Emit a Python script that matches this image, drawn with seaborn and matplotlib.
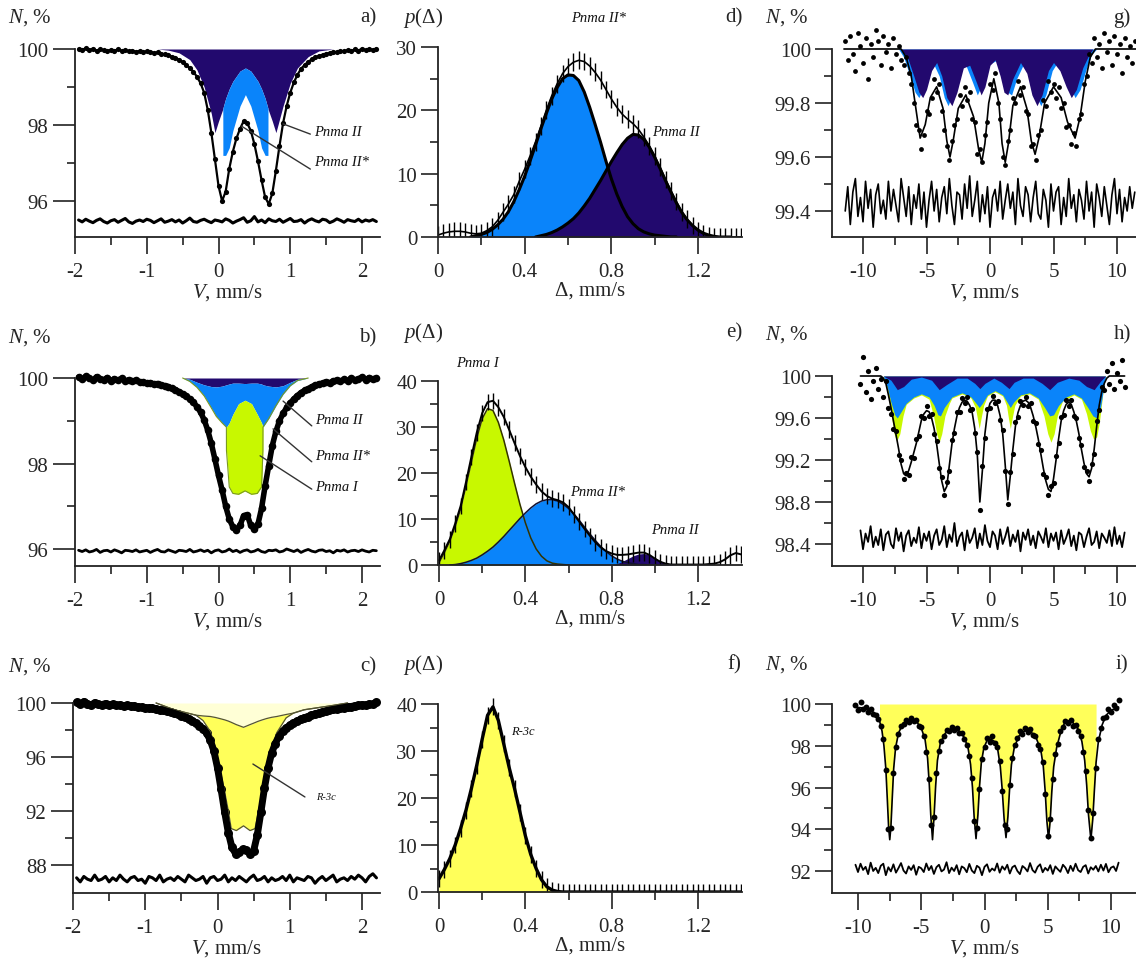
import numpy as np
import matplotlib
matplotlib.use("Agg")
import matplotlib.pyplot as plt
import seaborn as sns
from matplotlib.ticker import FixedLocator, FuncFormatter

sns.set_style("ticks")
plt.rcParams['font.family'] = ['Liberation Serif', 'DejaVu Serif']
plt.rcParams['mathtext.fontset'] = 'custom'
plt.rcParams['mathtext.it'] = 'Liberation Serif:italic'
plt.rcParams['mathtext.rm'] = 'Liberation Serif'
plt.rcParams['axes.unicode_minus'] = False

NAVY = '#22096e'
LBLUE = '#0a84fa'
GREEN = '#c8f800'
YELLOW = '#ffff5a'
PALE = '#ffffd6'
FS = 15

# ---------------- data: panel a ----------------
a_pts = [100.00, 99.98, 100.02, 99.97, 100.01, 99.96, 99.99, 99.97, 99.95, 99.98,
         99.96, 99.99, 99.95, 99.97, 99.94, 99.96, 99.93, 99.95, 99.92, 99.94,
         99.93, 99.90, 99.91, 99.88, 99.86, 99.85, 99.80, 99.77, 99.72, 99.66,
         99.58, 99.50, 99.40, 99.27, 99.10, 98.85, 98.40, 97.80, 97.10, 96.40,
         96.00, 96.25, 96.85, 97.30, 97.65, 97.90, 98.10, 98.05, 97.85, 97.50,
         97.05, 96.55, 96.10, 95.92, 96.20, 96.80, 97.45, 98.05, 98.50, 98.85,
         99.12, 99.32, 99.48, 99.58, 99.66, 99.73, 99.78, 99.82, 99.85, 99.88,
         99.90, 99.93, 99.91, 99.95, 99.94, 99.97, 99.95, 99.99, 99.96, 100.01,
         99.97, 100.00, 99.98, 100.01]
a_res = [3, -2, 5, 0, -4, 2, 6, -1, -5, 1, 4, -3, 2, 7, -2, -6, 0, 3, -1, 5,
         2, -4, 1, 6, -3, 0, 4, -2, 3, -5, 1, 8, -1, -3, 2, 5, 0, -4, 3, 1,
         -2, 6, 2, -5, 0, 4, 9, -3, 1, 12, -2, 3, -4, 6, 1, -1, 5, -3, 2, 7,
         -1, 0, 4, -5, 2, 6, 1, -2, 5, 3, -4, 0, 6, 2, -3, 4, 1, -1, 5, -2,
         3, 0, 4, -1]
A_RES_BASE = 95.47
a_cx = [-0.85, -0.7, -0.55, -0.4, -0.3, -0.2, -0.1, -0.05, 0.0, 0.06, 0.061, 0.1, 0.15, 0.2,
        0.3, 0.375, 0.45, 0.55, 0.6, 0.65, 0.689, 0.69, 0.75, 0.8, 0.9, 1.0, 1.1, 1.25, 1.4, 1.6]
a_navy = [100, 99.97, 99.9, 99.72, 99.45, 99.0, 98.3, 97.8, 98.1, 98.42, 98.44, 98.7, 98.95, 99.15,
          99.42, 99.5, 99.42, 99.15, 98.95, 98.7, 98.44, 98.42, 98.1, 97.8, 98.5, 99.1, 99.5, 99.8, 99.95, 100]
a_blue = [100, 99.97, 99.9, 99.72, 99.45, 99.0, 98.3, 97.8, 98.1, 98.42, 97.2, 97.2, 97.4, 97.85,
          98.5, 98.8, 98.5, 97.85, 97.4, 97.2, 97.2, 98.42, 98.1, 97.8, 98.5, 99.1, 99.5, 99.8, 99.95, 100]

# ---------------- data: panel b ----------------
b_pts = [100.02, 99.97, 100.04, 99.99, 99.95, 100.03, 99.98, 99.96, 100.01, 99.94,
         99.98, 99.95, 99.99, 99.93, 99.96, 99.92, 99.95, 99.91, 99.90, 99.88,
         99.89, 99.86, 99.87, 99.84, 99.82, 99.80, 99.76, 99.73, 99.68, 99.63,
         99.57, 99.51, 99.43, 99.33, 99.20, 99.02, 98.78, 98.47, 98.10, 97.72,
         97.38, 97.00, 96.70, 96.52, 96.45, 96.55, 96.78, 96.80, 96.55, 96.46,
         96.58, 96.95, 97.48, 97.95, 98.42, 98.75, 99.00, 99.17, 99.31, 99.42,
         99.51, 99.59, 99.66, 99.71, 99.75, 99.80, 99.83, 99.86, 99.88, 99.91,
         99.89, 99.93, 99.95, 99.92, 99.97, 99.94, 100.00, 99.95, 99.98, 100.02,
         99.96, 100.01, 99.97, 100.00]
b_res = [2, -1, 3, -2, 0, 4, -3, 1, 2, -2, 3, 0, -4, 2, 1, -1, 3, -2, 0, 2,
         -3, 1, 4, -1, -2, 3, 0, -3, 2, 1, -1, 4, -2, 0, 3, -1, 2, -4, 1, 3,
         -2, 0, 5, -1, 2, -3, 1, 3, -2, 0, 4, -1, -3, 2, 1, 3, -2, 0, 5, 2,
         -1, 3, -3, 1, 4, 0, -2, 2, 3, -1, 1, -4, 2, 0, 3, -2, 1, 2, -1, 3,
         0, -2, 2, 1]
B_RES_BASE = 95.95
b_cx = [-0.5, -0.4, -0.3, -0.2, -0.1, -0.03, 0.05, 0.11, 0.111, 0.15, 0.2, 0.28, 0.37, 0.46,
        0.54, 0.6, 0.619, 0.62, 0.7, 0.8, 0.9, 1.0, 1.1, 1.25]
b_navy = [100, 99.97, 99.9, 99.84, 99.8, 99.79, 99.81, 99.84, 99.84, 99.86, 99.88, 99.88, 99.87, 99.88,
          99.88, 99.86, 99.84, 99.84, 99.81, 99.79, 99.82, 99.9, 99.97, 100]
b_blue = [100, 99.92, 99.78, 99.58, 99.3, 99.1, 98.95, 98.85, 98.85, 98.95, 99.15, 99.4, 99.48, 99.4,
          99.15, 98.95, 98.85, 98.85, 99.05, 99.35, 99.62, 99.82, 99.94, 100]
b_green = [100, 99.92, 99.78, 99.58, 99.3, 99.1, 98.95, 98.85, 98.3, 97.45, 97.3, 97.28, 97.36, 97.28,
           97.3, 97.45, 98.3, 98.85, 99.05, 99.35, 99.62, 99.82, 99.94, 100]

# ---------------- data: panel c ----------------
c_pts = [100.05, 99.90, 100.10, 99.95, 99.85, 100.02, 99.92, 99.88, 99.96, 99.86,
         99.90, 99.82, 99.87, 99.80, 99.83, 99.76, 99.78, 99.72, 99.70, 99.66,
         99.64, 99.60, 99.55, 99.50, 99.45, 99.38, 99.32, 99.24, 99.15, 99.06,
         98.95, 98.83, 98.70, 98.53, 98.33, 98.08, 97.75, 97.25, 96.45, 95.20,
         93.60, 91.90, 90.40, 89.30, 88.85, 88.95, 89.15, 89.10, 88.85, 89.05,
         90.20, 91.90, 93.70, 95.20, 96.30, 97.00, 97.55, 97.90, 98.15, 98.35,
         98.52, 98.66, 98.80, 98.90, 99.00, 99.10, 99.18, 99.26, 99.32, 99.40,
         99.46, 99.52, 99.56, 99.62, 99.66, 99.72, 99.74, 99.80, 99.82, 99.88,
         99.86, 99.93, 99.90, 100.05]
c_res = [1, -2, 2, 0, -1, 3, -1, 0, 2, -2, 1, -1, 3, 0, -2, 1, 2, -1, 0, -3,
         2, 1, -1, 3, -2, 0, 1, -1, 2, 0, -2, 3, 1, -1, 0, 2, -3, 1, 2, -1,
         0, 3, -2, 1, -1, 2, 0, -2, 1, 3, -1, 0, 2, -2, 1, -1, 0, 2, -1, 3,
         -2, 1, 0, -1, 2, 1, -3, 0, 2, -1, 1, 3, -2, 0, 1, -1, 2, 0, 3, 1,
         -2, 2, 4, 1]
C_RES_BASE = 86.95
c_cx = [-0.85, -0.6, -0.3, -0.2, -0.1, -0.03, 0.03, 0.1, 0.15, 0.19, 0.26, 0.36, 0.45, 0.52,
        0.56, 0.62, 0.68, 0.75, 0.82, 0.95, 1.05, 1.2, 1.6, 1.8]
c_pale = [100, 99.5, 99.1, 99.04, 99.0, 98.93, 98.85, 98.75, 98.66, 98.57, 98.4, 98.2, 98.4, 98.55,
          98.64, 98.75, 98.85, 98.94, 99.0, 99.15, 99.25, 99.5, 99.82, 100]
c_r3c = [100, 99.5, 99.1, 98.7, 97.9, 96.7, 95.2, 93.4, 92.0, 90.7, 90.55, 90.9, 90.55, 90.7,
         91.8, 93.4, 95.0, 96.6, 97.8, 98.9, 99.25, 99.5, 99.82, 100]

# ---------------- data: panel d ----------------
d_total = [0.3, 0.6, 0.8, 0.9, 0.9, 0.8, 0.6, 0.5, 0.6, 1.0,
           1.6, 2.6, 3.9, 5.2, 6.7, 8.8, 10.7, 12.8, 15.0, 17.5,
           20.0, 22.3, 24.2, 25.8, 26.9, 27.6, 27.9, 27.7, 27.0, 26.0,
           24.8, 23.3, 21.8, 20.5, 19.4, 18.6, 17.9, 17.0, 15.8, 14.4,
           12.8, 11.0, 9.1, 7.3, 5.6, 4.0, 2.8, 1.8, 1.0, 0.5,
           0.2, 0.1, 0.0, 0.0, 0.0, 0.0, 0.0]
D_ERR = 1.4
d_blue = [0.0, 0.2, 0.4, 0.7, 1.2, 1.9, 2.8, 4.0, 5.6, 7.5,
          9.6, 12.0, 14.5, 17.1, 19.5, 21.8, 23.6, 25.0, 25.6, 25.5,
          24.7, 22.9, 20.5, 17.8, 15.0, 12.0, 9.2, 6.8, 4.8, 3.2,
          2.1, 1.3, 0.8, 0.5, 0.3, 0.2, 0.1, 0.0, 0.0]          # 0.15 .. 1.10
d_navy = [0.0, 0.2, 0.4, 0.7, 1.1, 1.6, 2.2, 2.9, 3.8, 4.9,
          6.1, 7.5, 8.9, 10.4, 11.9, 13.3, 14.6, 15.6, 16.2, 16.1,
          15.4, 14.2, 12.6, 10.8, 8.9, 7.1, 5.4, 3.9, 2.7, 1.8,
          1.1, 0.6, 0.3, 0.1, 0.0, 0.0, 0.0]                    # 0.45 .. 1.35

# ---------------- data: panel e ----------------
e_total = [1.0, 3.2, 5.6, 9.0, 12.8, 18.0, 23.5, 28.8, 33.0, 35.4,
           35.7, 34.3, 32.2, 29.4, 26.5, 23.7, 21.3, 19.2, 17.5, 16.0,
           15.0, 14.4, 14.1, 13.6, 12.6, 11.0, 9.4, 7.8, 6.3, 4.9,
           3.8, 3.0, 2.5, 2.2, 2.2, 2.3, 2.5, 2.7, 2.7, 2.2,
           1.4, 0.7, 0.3, 0.1, 0.1, 0.1, 0.1, 0.1, 0.1, 0.1,
           0.2, 0.3, 0.6, 1.2, 2.1, 2.6, 2.3]
E_ERR = 1.8
e_green = [0.5, 2.7, 5.2, 8.4, 12.2, 17.2, 22.4, 27.6, 31.8, 34.0,
           33.6, 31.0, 27.2, 22.6, 17.8, 13.2, 9.2, 5.9, 3.5, 1.9,
           0.9, 0.4, 0.2, 0.1, 0.0]                               # 0 .. 0.6
e_blue = [0.0, 0.1, 0.3, 0.6, 1.0, 1.5, 2.2, 3.0, 3.9, 5.0,
          6.2, 7.5, 8.8, 10.1, 11.3, 12.4, 13.3, 13.9, 14.2, 14.2,
          13.9, 13.2, 12.3, 11.1, 9.7, 8.2, 6.7, 5.3, 4.0, 2.9,
          2.0, 1.3, 0.8, 0.5, 0.3, 0.1, 0.1, 0.0, 0.0]            # 0.05 .. 1.0
e_navy = [0.0, 0.3, 0.8, 1.4, 2.0, 2.4, 2.5, 2.2, 1.6, 0.9, 0.4, 0.1, 0.0]  # 0.8 .. 1.1

# ---------------- data: panel f ----------------
f_total = [2.8, 4.8, 7.1, 10.0, 13.5, 17.4, 22.0, 27.0, 32.5, 37.6,
           39.4, 36.5, 31.5, 26.5, 22.0, 17.0, 12.0, 8.0, 5.0, 2.6,
           1.1, 0.4, 0.1, 0.0, 0.0, 0.0, 0.0, 0.0, 0.0, 0.0,
           0.0, 0.0, 0.0, 0.0, 0.0, 0.0, 0.0, 0.0, 0.0, 0.0,
           0.0, 0.0, 0.0, 0.0, 0.0, 0.0, 0.0, 0.0, 0.0, 0.0,
           0.0, 0.0, 0.0, 0.0, 0.0, 0.0, 0.0]
F_ERR = 1.8

# ---------------- data: panel g ----------------
g_pts = [100.03, 99.96, 100.05, 99.98, 99.92, 100.06, 100.01, 99.95, 100.04, 99.89,
         100.02, 99.97, 100.07, 100.03, 99.94, 100.05, 99.99, 100.02, 99.93, 100.04,
         99.98, 100.01, 99.96, 99.94, 99.97, 99.91, 99.87, 99.80, 99.72, 99.70,
         99.63, 99.68, 99.77, 99.76, 99.82, 99.89, 99.84, 99.87, 99.77, 99.70,
         99.64, 99.59, 99.66, 99.72, 99.74, 99.83, 99.79, 99.86, 99.81, 99.84,
         99.74, 99.73, 99.61, 99.63, 99.58, 99.68, 99.73, 99.87, 99.85, 99.91,
         99.80, 99.74, 99.60, 99.57, 99.66, 99.70, 99.82, 99.80, 99.88, 99.83,
         99.86, 99.77, 99.76, 99.64, 99.65, 99.59, 99.68, 99.70, 99.81, 99.79,
         99.88, 99.84, 99.87, 99.82, 99.86, 99.78, 99.80, 99.71, 99.72, 99.65,
         99.69, 99.64, 99.74, 99.76, 99.87, 99.90, 99.98, 99.95, 100.04, 99.97,
         100.02, 99.93, 100.06, 99.99, 100.03, 99.94, 100.05, 99.98, 100.02, 99.91,
         100.04, 99.97, 100.01, 99.95, 100.03]
g_fit_x = [-11.5, -7.0, -6.6, -6.2, -5.9, -5.5, -5.1, -4.7, -4.2, -3.7, -3.4, -3.15, -2.9, -2.5,
           -1.9, -1.3, -0.9, -0.65, -0.4, -0.1, 0.3, 0.7, 0.95, 1.2, 1.45, 1.8, 2.4, 2.9, 3.25,
           3.55, 3.85, 4.3, 5.0, 5.6, 6.1, 6.7, 7.1, 7.5, 7.9, 8.3, 11.5]
g_fit_y = [100, 100, 99.97, 99.9, 99.8, 99.67, 99.72, 99.82, 99.86, 99.78, 99.66, 99.6, 99.66, 99.78,
           99.83, 99.75, 99.63, 99.58, 99.65, 99.8, 99.89, 99.8, 99.65, 99.58, 99.65, 99.79, 99.86,
           99.78, 99.66, 99.61, 99.67, 99.8, 99.86, 99.82, 99.73, 99.67, 99.75, 99.88, 99.97, 100, 100]
g_res = [-3, 6, -8, 4, 9, -5, 2, -7, 8, -2, 5, -9, 3, 7, -4, 1, -6, 8, -3, 5,
         -1, -7, 9, 2, -5, 6, -8, 3, -2, 7, -6, 4, -9, 1, 8, -3, 5, -7, 2, 6,
         -4, 9, -1, -8, 4, 3, -6, 7, -2, 10, -5, 1, 8, -7, 3, -4, 6, -9, 2, 5,
         -3, 8, -6, 1, 7, -2, 4, -8, 9, -1, -5, 6, 3, -7, 2, 8, -4, -6, 5, 1,
         -9, 7, -3, 4, 6, -8, 2, -5, 9, -2, 3, -7, 5, 1, -6, 8, -3, 4, -9, 7,
         2, -5, 6, -1, -8, 3, 9, -4, 5, -7, 2, -3, 6, -2, 4]
G_RES_BASE = 99.43
g_navy_x = [-7.0, -6.5, -6.0, -5.6, -5.3, -5.0, -4.6, -4.2, -3.8, -3.4, -3.0, -2.6, -2.1, -1.6,
            -1.1, -0.7, -0.4, 0.0, 0.4, 0.8, 1.1, 1.4, 1.8, 2.4, 2.9, 3.3, 3.7, 4.1, 4.6, 5.0,
            5.5, 6.0, 6.4, 6.8, 7.3, 7.8, 8.1]
g_navy_y = [100, 99.97, 99.9, 99.84, 99.82, 99.85, 99.92, 99.95, 99.9, 99.82, 99.79, 99.84, 99.93,
            99.94, 99.88, 99.83, 99.86, 99.94, 99.96, 99.9, 99.84, 99.83, 99.89, 99.95, 99.91, 99.83,
            99.79, 99.83, 99.92, 99.95, 99.92, 99.86, 99.82, 99.85, 99.93, 99.98, 100]
g_blue_x = [-7.2, -6.8, -6.3, -5.9, -5.6, -5.3, -4.9, -4.5, -4.0, -3.6, -3.3, -2.9, -2.4, -1.9,
            -1.4, -1.0, -0.7, -0.2, 0.6, 1.0, 1.4, 1.7, 2.1, 2.7, 3.2, 3.6, 4.0, 4.4, 4.9, 5.3,
            5.8, 6.3, 6.7, 7.1, 7.6, 8.0, 8.4]
g_blue_y = g_navy_y

# ---------------- data: panel h ----------------
h_pts = [99.92, 100.18, 99.85, 100.05, 99.78, 99.95, 100.08, 99.88, 99.97, 99.80,
         99.95, 99.70, 99.64, 99.50, 99.48, 99.25, 99.20, 99.02, 99.08, 99.06,
         99.23, 99.22, 99.40, 99.43, 99.62, 99.60, 99.71, 99.62, 99.64, 99.45,
         99.38, 99.12, 99.04, 98.87, 98.99, 99.10, 99.39, 99.46, 99.66, 99.66,
         99.79, 99.74, 99.80, 99.68, 99.69, 99.46, 99.28, 98.72, 99.14, 99.41,
         99.69, 99.70, 99.81, 99.74, 99.76, 99.58, 99.49, 99.10, 98.78, 99.09,
         99.26, 99.56, 99.61, 99.76, 99.72, 99.80, 99.71, 99.74, 99.57, 99.55,
         99.35, 99.30, 99.07, 99.04, 98.87, 98.95, 98.98, 99.24, 99.36, 99.61,
         99.63, 99.77, 99.71, 99.77, 99.62, 99.60, 99.41, 99.34, 99.13, 99.10,
         99.00, 99.16, 99.26, 99.57, 99.68, 99.90, 99.87, 100.05, 99.92, 100.12,
         99.88, 100.03, 99.95, 100.15, 99.90]
h_fit = [100, 100, 100, 100, 100, 100, 100, 100, 100,
         99.98, 99.93, 99.82, 99.70, 99.57, 99.44, 99.31, 99.16, 99.07, 99.05,
         99.10, 99.18, 99.27, 99.36, 99.47, 99.58, 99.64, 99.67, 99.66, 99.60,
         99.50, 99.35, 99.17, 99.00, 98.90, 98.95, 99.15, 99.35, 99.50, 99.62,
         99.70, 99.75, 99.77, 99.76, 99.72, 99.65, 99.50, 99.25, 98.80, 99.10,
         99.45, 99.65, 99.74, 99.77, 99.77, 99.72, 99.62, 99.45, 99.15, 98.82,
         99.05, 99.30, 99.52, 99.65, 99.72, 99.76, 99.77, 99.75, 99.70, 99.62,
         99.52, 99.40, 99.26, 99.12, 99.00, 98.92, 98.90, 99.02, 99.20, 99.40,
         99.57, 99.67, 99.73, 99.75, 99.73, 99.66, 99.57, 99.45, 99.30, 99.17,
         99.07, 99.04, 99.12, 99.30, 99.52, 99.72, 99.85, 99.93, 99.98,
         100, 100, 100, 100, 100, 100, 100]
h_res = [8, -10, 5, -3, 12, -8, 2, -6, 9, -11, 4, 7, -5, -9, 10, -2, 6, -12, 3, 8,
         -7, 1, -4, 11, -9, 5, -2, 7, -10, 3, 9, -6, -1, 12, -8, 4, -3, 15, -7, 2,
         6, -11, 8, -4, 1, 10, -9, 5, -6, 13, -2, -8, 7, 3, -10, 9, -5, 2, 11, -7,
         4, -3, 8, -12, 6, -1, 9, -6, 3, -9, 7, 2, -4, 10, -8, 5, -2, 6, -10, 8,
         -5, 1, 9, -7, 3, -11, 6, 4, -8, 2, 10, -6, -3, 7, -9, 5, 1, -4, 8, -7,
         11, -5, 3, -8, 6]
H_RES_BASE = 98.45
h_cx_navy = [-8.4, -7.8, -7.3, -6.8, -6.2, -5.4, -4.6, -4.0, -3.4, -2.6, -1.8, -1.2, -0.8, -0.4,
             0.3, 0.9, 1.5, 1.9, 2.6, 3.4, 4.1, 4.7, 5.3, 6.2, 7.0, 7.6, 8.2, 8.7, 9.1]
h_navy = [100, 99.96, 99.87, 99.9, 99.97, 99.99, 99.96, 99.87, 99.92, 99.98, 99.98, 99.93, 99.88,
          99.93, 99.98, 99.94, 99.88, 99.94, 99.98, 99.98, 99.93, 99.87, 99.94, 99.98, 99.96, 99.9,
          99.87, 99.95, 100]
h_cx_blue = [-8.4, -8.1, -7.8, -7.5, -7.3, -7.0, -6.6, -6.0, -5.4, -4.8, -4.4, -4.1, -3.9, -3.6,
             -3.0, -2.2, -1.5, -1.1, -0.85, -0.6, -0.2, 0.4, 1.0, 1.35, 1.6, 1.85, 2.4, 3.1, 3.8,
             4.3, 4.7, 5.0, 5.4, 6.0, 6.6, 7.2, 7.7, 8.1, 8.4, 8.7, 8.9, 9.1]
h_blue = [100, 99.9, 99.75, 99.63, 99.6, 99.66, 99.74, 99.8, 99.83, 99.8, 99.72, 99.63, 99.62, 99.7,
          99.8, 99.84, 99.8, 99.74, 99.7, 99.74, 99.82, 99.86, 99.82, 99.75, 99.7, 99.75, 99.82,
          99.84, 99.79, 99.7, 99.62, 99.63, 99.72, 99.8, 99.83, 99.79, 99.7, 99.62, 99.6, 99.7,
          99.85, 100]
h_cx_green = [-8.4, -8.1, -7.8, -7.55, -7.35, -7.1, -6.85, -6.6, -6.0, -5.4, -4.8, -4.45, -4.2,
              -4.0, -3.8, -3.55, -3.2, -3.0, -2.2, -1.5, -1.15, -1.0, -0.85, -0.7, -0.5, -0.2,
              0.4, 1.0, 1.3, 1.45, 1.6, 1.75, 1.95, 2.4, 3.1, 3.8, 4.25, 4.55, 4.8, 5.05, 5.3,
              5.7, 6.6, 7.2, 7.6, 7.9, 8.15, 8.4, 8.6, 8.8, 8.95, 9.1]
h_green = [100, 99.88, 99.65, 99.45, 99.38, 99.45, 99.62, 99.73, 99.79, 99.82, 99.78, 99.62, 99.45,
           99.37, 99.45, 99.62, 99.74, 99.79, 99.83, 99.79, 99.7, 99.6, 99.5, 99.6, 99.72, 99.81,
           99.85, 99.81, 99.72, 99.6, 99.5, 99.6, 99.72, 99.81, 99.83, 99.78, 99.62, 99.45, 99.37,
           99.45, 99.62, 99.76, 99.82, 99.78, 99.64, 99.48, 99.4, 99.42, 99.55, 99.75, 99.9, 100]

# ---------------- data: panel i ----------------
i_pts = [99.95, 99.70, 100.10, 99.75, 99.85, 99.60, 99.78, 99.52, 99.45, 99.30,
         98.95, 98.30, 96.85, 94.00, 94.05, 96.70, 97.95, 98.55, 98.95, 99.05,
         99.25, 99.15, 99.35, 99.20, 99.25, 98.95, 98.90, 98.45, 97.70, 96.40,
         94.20, 94.60, 96.70, 97.75, 98.25, 98.45, 98.75, 98.70, 98.90, 98.75,
         98.85, 98.60, 98.60, 98.30, 98.05, 97.50, 96.45, 94.40, 94.05, 95.95,
         97.35, 97.95, 98.35, 98.20, 98.45, 98.15, 97.95, 97.25, 95.85, 94.20,
         94.00, 96.10, 97.40, 98.05, 98.35, 98.70, 98.55, 98.85, 98.65, 98.80,
         98.50, 98.45, 98.05, 97.85, 97.20, 95.70, 93.70, 94.50, 96.40, 97.60,
         98.10, 98.70, 98.90, 99.20, 99.10, 99.25, 98.95, 99.00, 98.70, 98.45,
         97.70, 96.80, 94.90, 93.60, 94.80, 96.95, 98.30, 98.85, 99.35, 99.40,
         99.75, 99.60, 99.95, 99.80, 100.20]
i_fit_x = [-10.2, -9.5, -9.0, -8.6, -8.3, -8.1, -7.95, -7.8, -7.68, -7.58, -7.49, -7.4, -7.3, -7.18,
           -7.03, -6.8, -6.5, -6.1, -5.77, -5.4, -5.0, -4.7, -4.5, -4.36, -4.25, -4.11, -3.98,
           -3.86, -3.72, -3.5, -3.1, -2.7, -2.34, -2.0, -1.6, -1.3, -1.1, -0.95, -0.82, -0.67,
           -0.52, -0.4, -0.25, -0.05, 0.2, 0.49, 0.8, 1.05, 1.25, 1.4, 1.55, 1.7, 1.85, 1.98,
           2.13, 2.35, 2.7, 3.0, 3.34, 3.7, 4.1, 4.45, 4.65, 4.8, 4.93, 5.06, 5.19, 5.32, 5.47,
           5.7, 6.0, 6.3, 6.64, 7.0, 7.4, 7.7, 7.92, 8.08, 8.22, 8.41, 8.56, 8.68, 8.82, 9.0,
           9.3, 9.6, 10.0, 10.6]
i_fit_y = [99.85, 99.8, 99.7, 99.5, 99.2, 98.7, 98.0, 96.9, 95.4, 94.1, 93.5, 94.1, 95.4, 96.9,
           97.9, 98.6, 99.0, 99.22, 99.28, 99.18, 98.85, 98.3, 97.4, 96.1, 94.7, 93.5, 94.7,
           96.1, 97.3, 98.1, 98.6, 98.78, 98.8, 98.7, 98.4, 97.9, 97.1, 96.0, 94.6, 93.55,
           94.7, 96.0, 97.2, 97.9, 98.25, 98.32, 98.2, 97.8, 97.0, 95.9, 94.5, 93.6, 94.6, 95.9,
           97.1, 97.9, 98.45, 98.66, 98.72, 98.65, 98.35, 97.8, 97.0, 95.8, 94.4, 93.55, 94.4,
           95.8, 97.0, 97.9, 98.6, 99.05, 99.2, 99.1, 98.8, 98.2, 97.3, 96.1, 94.7, 93.5, 94.5,
           95.8, 97.2, 98.2, 99.0, 99.45, 99.7, 99.85]
i_res = [20, -15, 25, -5, 10, -25, 30, -10, 5, -20, 15, 25, -30, 8, -12, 22, -18, 4, 28, -8,
         -22, 12, -5, 18, -28, 10, 3, -15, 26, -6, 14, -24, 8, 20, -12, -3, 32, -20, 6, -10,
         18, -26, 12, 4, -16, 24, -8, -20, 15, 6, -30, 10, 22, -14, 2, -8, 26, -18, 12, -4,
         20, -22, 8, 16, -10, -25, 14, 4, -12, 28, -6, -18, 10, 22, -16, 5, -8, 18, -24, 12,
         -2, -14, 20, 6, -20, 15, -10, 25, -6, -15, 10, 18, -22, 8, -4, 14, -12, 20, -8, 24,
         -16, 6, 12, -10, 30]
I_RES_BASE = 92.1
I_FILL_RANGE = (-8.3, 8.95)

# ================= figure =================
W, H = 1136, 978
fig = plt.figure(figsize=(W / 100, H / 100), dpi=100)


def make_panel(L, R, B, T, xref, yref):
    ax = fig.add_axes([L / W, 1 - B / H, (R - L) / W, (B - T) / H])
    (xa, pa), (xb, pb) = xref
    sx = (pb - pa) / (xb - xa)
    ax.set_xlim(xa + (L - pa) / sx, xa + (R - pa) / sx)
    (ya, qa), (yb, qb) = yref
    sy = (qb - qa) / (yb - ya)
    ax.set_ylim(ya + (B - qa) / sy, ya + (T - qa) / sy)
    ax.patch.set_alpha(0)
    return ax


def style(ax, ymaj, ymin, xmaj, xmin, ytop, ylen=12, xlabel=r'$V$, mm/s'):
    sns.despine(ax=ax)
    ax.spines['left'].set_bounds(ax.get_ylim()[0], ytop)
    for s in ['left', 'bottom']:
        ax.spines[s].set_linewidth(1.3)
        ax.spines[s].set_color('#222222')
    ax.yaxis.set_major_locator(FixedLocator(ymaj))
    ax.yaxis.set_minor_locator(FixedLocator(ymin))
    ax.xaxis.set_major_locator(FixedLocator(xmaj))
    ax.xaxis.set_minor_locator(FixedLocator(xmin))
    fmt = FuncFormatter(lambda v, p: f'{v:g}')
    ax.yaxis.set_major_formatter(fmt)
    ax.xaxis.set_major_formatter(fmt)
    ax.tick_params(axis='y', which='major', length=ylen, width=1.2, direction='out',
                   labelsize=FS, pad=3, color='#222222')
    ax.tick_params(axis='y', which='minor', length=6, width=1.2, direction='out', color='#222222')
    ax.tick_params(axis='x', which='major', length=12, width=1.2, direction='out',
                   labelsize=FS, pad=6, color='#222222')
    ax.tick_params(axis='x', which='minor', length=6, width=1.2, direction='out', color='#222222')
    ax.set_xlabel(xlabel, fontsize=FS, labelpad=0)
    ax.set_ylabel('')


def ftext(px, py, s, **kw):
    fig.text(px / W, 1 - py / H, s, ha='center', va='center', fontsize=FS, **kw)


def lin(start, stop, vals):
    return np.linspace(start, stop, len(vals))


def pnma(ax, x, y, s, size=10.5, ha='left'):
    ax.text(x, y, s, fontsize=size, style='italic', ha=ha, va='center', color='#111111')


def leader(ax, p0, p1):
    ax.plot([p0[0], p1[0]], [p0[1], p1[1]], color='#333333', lw=1.0)


# ---------- panel a ----------
ax = make_panel(75, 380, 238, 40, ((-2, 75), (2, 362)), ((100, 50), (96, 202)))
ax.fill_between(a_cx, 100, a_navy, color=NAVY, lw=0)
ax.fill_between(a_cx, a_navy, a_blue, color=LBLUE, lw=0)
xa = lin(-1.95, 2.2, a_pts)
sns.lineplot(x=xa, y=a_pts, ax=ax, color='k', lw=1.6, sort=False, estimator=None)
sns.scatterplot(x=xa, y=a_pts, ax=ax, color='k', s=14, edgecolor='k', linewidth=0)
sns.lineplot(x=lin(-1.95, 2.2, a_res), y=A_RES_BASE + np.array(a_res) / 100, ax=ax,
             color='k', lw=2.2, sort=False, estimator=None)
leader(ax, (0.9, 98.03), (1.28, 97.76))
leader(ax, (0.32, 97.97), (1.28, 96.84))
pnma(ax, 1.33, 97.84, 'Pnma II')
pnma(ax, 1.33, 97.03, 'Pnma II*')
style(ax, [96, 98, 100], [97, 99], [-2, -1, 0, 1, 2], [-1.5, -0.5, 0.5, 1.5], 100, ylen=16)

# ---------- panel b ----------
ax = make_panel(75, 380, 567, 370, ((-2, 75), (2, 362)), ((100, 379), (96, 550)))
ax.fill_between(b_cx, 100, b_navy, color=NAVY, lw=0)
ax.fill_between(b_cx, b_navy, b_blue, color=LBLUE, lw=0)
ax.fill_between(b_cx, b_blue, b_green, color=GREEN, lw=0)
ax.plot(b_cx, b_green, color='#7a9a20', lw=0.8)
xb = lin(-1.95, 2.2, b_pts)
sns.lineplot(x=xb, y=b_pts, ax=ax, color='k', lw=4, sort=False, estimator=None)
sns.scatterplot(x=xb, y=b_pts, ax=ax, color='k', s=30, edgecolor='k', linewidth=0)
sns.lineplot(x=lin(-1.95, 2.2, b_res), y=B_RES_BASE + np.array(b_res) / 100, ax=ax,
             color='k', lw=2.0, sort=False, estimator=None)
leader(ax, (0.9, 99.46), (1.3, 98.88))
leader(ax, (0.76, 98.81), (1.3, 98.04))
leader(ax, (0.58, 98.18), (1.3, 97.4))
pnma(ax, 1.35, 99.04, 'Pnma II')
pnma(ax, 1.35, 98.18, 'Pnma II*')
pnma(ax, 1.35, 97.47, 'Pnma I')
style(ax, [96, 98, 100], [97, 99], [-2, -1, 0, 1, 2], [-1.5, -0.5, 0.5, 1.5], 100, ylen=16)

# ---------- panel c ----------
ax = make_panel(73, 380, 894, 697, ((-2, 73), (2, 362)), ((100, 704), (88, 866)))
ax.fill_between(c_cx, 100, c_pale, color=PALE, lw=0)
ax.fill_between(c_cx, c_pale, c_r3c, color=YELLOW, lw=0)
ax.plot(c_cx, c_pale, color='#555533', lw=0.9)
ax.plot(c_cx, c_r3c, color='#555533', lw=0.9)
xc = lin(-1.95, 2.2, c_pts)
sns.lineplot(x=xc, y=c_pts, ax=ax, color='k', lw=5, sort=False, estimator=None)
sns.scatterplot(x=xc, y=c_pts, ax=ax, color='k', s=42, edgecolor='k', linewidth=0)
sns.lineplot(x=lin(-1.95, 2.2, c_res), y=C_RES_BASE + np.array(c_res) / 10, ax=ax,
             color='k', lw=2.2, sort=False, estimator=None)
leader(ax, (0.49, 95.48), (1.21, 93.04))
pnma(ax, 1.36, 93.1, 'R-3c', size=7.5)
style(ax, [88, 92, 96, 100], [90, 94, 98], [-2, -1, 0, 1, 2], [-1.5, -0.5, 0.5, 1.5], 100, ylen=16)

# ---------- panel d ----------
ax = make_panel(438, 742, 238, 40, ((0, 438), (1.2, 698)), ((30, 48), (0, 238)))
xdb = lin(0.15, 1.10, d_blue)
xdn = lin(0.45, 1.35, d_navy)
ax.fill_between(xdb, 0, d_blue, color=LBLUE, lw=0)
ax.fill_between(xdn, 0, d_navy, color=NAVY, lw=0)
sns.lineplot(x=xdb, y=d_blue, ax=ax, color='k', lw=2.2, sort=False, estimator=None)
sns.lineplot(x=xdn, y=d_navy, ax=ax, color='k', lw=2.2, sort=False, estimator=None)
xd = lin(0, 1.4, d_total)
ax.errorbar(xd, d_total, yerr=D_ERR, fmt='none', ecolor='k', elinewidth=1.0, capsize=0)
sns.lineplot(x=xd, y=d_total, ax=ax, color='k', lw=1.2, sort=False, estimator=None)
pnma(ax, 0.74, 34.6, 'Pnma II*', ha='center')
pnma(ax, 1.1, 16.6, 'Pnma II', ha='center')
style(ax, [0, 10, 20, 30], [5, 15, 25], [0, 0.4, 0.8, 1.2], [0.2, 0.6, 1.0], 30,
      xlabel='Δ, mm/s')

# ---------- panel e ----------
ax = make_panel(438, 742, 566, 370, ((0, 439), (1.2, 698)), ((40, 382), (0, 566)))
xeg = lin(0, 0.6, e_green)
xeb = lin(0.05, 1.0, e_blue)
xen = lin(0.8, 1.1, e_navy)
ax.fill_between(xeg, 0, e_green, color=GREEN, lw=0)
ax.fill_between(xeb, 0, e_blue, color=LBLUE, lw=0)
ax.fill_between(xen, 0, e_navy, color=NAVY, lw=0)
ax.plot(xeg, e_green, color='#333300', lw=1.1)
ax.plot(xeb, e_blue, color='#111133', lw=1.1)
xe = lin(0, 1.4, e_total)
ax.errorbar(xe, e_total, yerr=E_ERR, fmt='none', ecolor='k', elinewidth=1.0, capsize=0)
sns.lineplot(x=xe, y=e_total, ax=ax, color='k', lw=1.4, sort=False, estimator=None)
pnma(ax, 0.18, 44.0, 'Pnma I', ha='center')
pnma(ax, 0.735, 15.9, 'Pnma II*', ha='center')
pnma(ax, 1.095, 7.8, 'Pnma II', ha='center')
style(ax, [0, 10, 20, 30, 40], [5, 15, 25, 35], [0, 0.4, 0.8, 1.2], [0.2, 0.6, 1.0], 40,
      xlabel='Δ, mm/s')

# ---------- panel f ----------
ax = make_panel(438, 742, 893, 697, ((0, 439), (1.2, 698)), ((40, 705), (0, 893)))
xf = lin(0, 1.4, f_total)
ax.fill_between(xf, 0, f_total, color=YELLOW, lw=0)
ax.errorbar(xf, f_total, yerr=F_ERR, fmt='none', ecolor='k', elinewidth=1.0, capsize=0)
sns.lineplot(x=xf, y=f_total, ax=ax, color='k', lw=2.4, sort=False, estimator=None)
pnma(ax, 0.39, 34.3, 'R-3c', size=9, ha='center')
style(ax, [0, 10, 20, 30, 40], [5, 15, 25, 35], [0, 0.4, 0.8, 1.2], [0.2, 0.6, 1.0], 40,
      xlabel='Δ, mm/s')

# ---------- panel g ----------
ax = make_panel(832, 1136, 238, 25, ((-10, 863), (10, 1117)), ((100, 50), (99.4, 212)))
ax.fill_between(g_blue_x, 100, g_blue_y, color=LBLUE, lw=0)
ax.fill_between(g_navy_x, 100, g_navy_y, color=NAVY, lw=0)
sns.lineplot(x=g_fit_x, y=g_fit_y, ax=ax, color='k', lw=1.2, sort=False, estimator=None)
sns.scatterplot(x=lin(-11.4, 11.4, g_pts), y=g_pts, ax=ax, color='k', s=12, edgecolor='k',
                linewidth=0)
sns.lineplot(x=lin(-11.4, 11.4, g_res), y=G_RES_BASE + np.array(g_res) / 100, ax=ax,
             color='k', lw=1.2, sort=False, estimator=None)
style(ax, [99.4, 99.6, 99.8, 100], [99.5, 99.7, 99.9], [-10, -5, 0, 5, 10],
      [-7.5, -2.5, 2.5, 7.5], 100)

# ---------- panel h ----------
ax = make_panel(832, 1136, 567, 352, ((-10, 863), (10, 1117)), ((100, 377), (98.4, 545)))
ax.fill_between(h_cx_green, 100, h_green, color=GREEN, lw=0)
ax.fill_between(h_cx_blue, 100, h_blue, color=LBLUE, lw=0)
ax.fill_between(h_cx_navy, 100, h_navy, color=NAVY, lw=0)
xh = lin(-10.2, 10.6, h_pts)
sns.lineplot(x=lin(-10.2, 10.6, h_fit), y=h_fit, ax=ax, color='k', lw=1.2, sort=False,
             estimator=None)
sns.scatterplot(x=xh, y=h_pts, ax=ax, color='k', s=14, edgecolor='k', linewidth=0)
sns.lineplot(x=lin(-10.2, 10.6, h_res), y=H_RES_BASE + np.array(h_res) / 100, ax=ax,
             color='k', lw=1.3, sort=False, estimator=None)
style(ax, [98.4, 98.8, 99.2, 99.6, 100], [98.6, 99.0, 99.4, 99.8], [-10, -5, 0, 5, 10],
      [-7.5, -2.5, 2.5, 7.5], 100)

# ---------- panel i ----------
ax = make_panel(832, 1136, 894, 690, ((-10, 858), (10, 1111)), ((100, 705), (92, 872)))
fx = np.array(i_fit_x)
ax.fill_between(fx, i_fit_y, 100, where=(fx >= I_FILL_RANGE[0]) & (fx <= I_FILL_RANGE[1]),
                color=YELLOW, lw=0)
sns.lineplot(x=i_fit_x, y=i_fit_y, ax=ax, color='k', lw=1.2, sort=False, estimator=None)
sns.scatterplot(x=lin(-10.2, 10.6, i_pts), y=i_pts, ax=ax, color='k', s=18, edgecolor='k',
                linewidth=0)
sns.lineplot(x=lin(-10.2, 10.6, i_res), y=I_RES_BASE + np.array(i_res) / 100, ax=ax,
             color='k', lw=1.3, sort=False, estimator=None)
style(ax, [92, 94, 96, 98, 100], [93, 95, 97, 99], [-10, -5, 0, 5, 10],
      [-7.5, -2.5, 2.5, 7.5], 100)

# ---------- header labels ----------
for (nx, ny, lab) in [(30, 18, r'$N$, %'), (30, 338, r'$N$, %'), (30, 667, r'$N$, %'),
                      (787, 18, r'$N$, %'), (787, 335, r'$N$, %'), (787, 665, r'$N$, %'),
                      (423, 18, r'$p$(Δ)'), (423, 333, r'$p$(Δ)'), (423, 665, r'$p$(Δ)')]:
    ftext(nx, ny, lab)
for (lx, ly, lab) in [(368, 18, 'a)'), (368, 338, 'b)'), (368, 667, 'c)'),
                      (734, 18, 'd)'), (734, 333, 'e)'), (734, 665, 'f)'),
                      (1122, 18, 'g)'), (1122, 335, 'h)'), (1122, 665, 'i)')]:
    ftext(lx, ly, lab)

fig.savefig('out.png', dpi=100, facecolor='white')
